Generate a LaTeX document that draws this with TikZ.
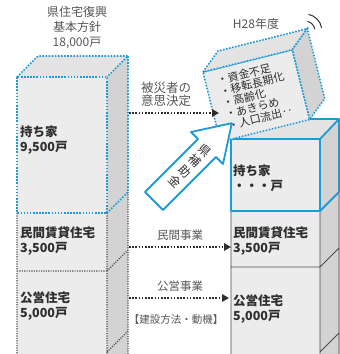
\documentclass[tikz,border=0pt]{standalone}
\usepackage{fontspec}
\setmainfont{Noto Sans CJK JP}
\usetikzlibrary{arrows.meta}
\definecolor{cy}{HTML}{1E9AD6}
\definecolor{ink}{HTML}{2E2E2E}
\definecolor{softink}{HTML}{555555}
\definecolor{frontc}{HTML}{ECECEC}
\definecolor{topc}{HTML}{E3E3E3}
\definecolor{sidec}{HTML}{D3D3D3}
\definecolor{dk}{HTML}{4A4A4A}
\tikzset{
  cdot/.style={draw=cy, line width=1.6pt, dash pattern=on 1.6pt off 1.5pt},
  gdot/.style={draw=dk, line width=1.1pt, dash pattern=on 1.1pt off 1.3pt},
  csol/.style={draw=cy, line width=1.8pt, line join=round},
  dsol/.style={draw=dk, line width=0.9pt},
  lbl/.style={font=\bfseries\fontsize{12.5}{15}\selectfont, text=ink, align=left, anchor=west, inner sep=0pt},
  captxt/.style={font=\fontsize{12}{15}\selectfont, text=softink, align=center, inner sep=0pt},
  smalltxt/.style={font=\fontsize{11.5}{13}\selectfont, text=softink, inner sep=0pt},
  listtxt/.style={font=\fontsize{11}{12}\selectfont, text=ink, anchor=west, inner sep=0pt, rotate=14},
  flow/.style={draw=ink, line width=1.7pt, dash pattern=on 1.6pt off 1.6pt, -{Triangle[length=7pt,width=7.5pt]}, shorten >=0pt},
}
\begin{document}
\begin{tikzpicture}[x=1pt,y=-1pt]
\useasboundingbox (0,0) rectangle (340,354);
\begin{scope}
\clip (0,0) rectangle (340,354);
% ---------- left box ----------
\fill[topc] (17,77)--(38,56)--(128,56)--(107,77)--cycle;
\fill[sidec] (107,77)--(128,56)--(128,380)--(107,400)--cycle;
\fill[frontc] (17,77) rectangle (107,380);
\draw[gdot] (17,213)--(17,380) (107,213)--(107,380) (17,271)--(107,271)
  (128,192)--(128,380) (107,271)--(128,250) (107,352)--(128,331);
\draw[cdot] (17,77) rectangle (107,213);
\draw[cdot] (17,77)--(38,56)--(128,56)--(107,77);
\draw[cdot] (128,56)--(128,192)--(107,213);
% ---------- right box ----------
\fill[topc] (231,139)--(251,119)--(340,119)--(320,139)--cycle;
\fill[sidec] (320,139)--(340,119)--(340,380)--(320,400)--cycle;
\fill[frontc] (231,139) rectangle (320,380);
\draw[dsol] (231,211)--(231,380) (320,211)--(320,380) (231,267)--(320,267)
  (320,267)--(339,248) (320,352)--(339,333) (339,192)--(339,380);
\draw[csol] (231,139) rectangle (320,211);
\draw[csol] (231,139)--(251,119)--(339,119)--(320,139);
\draw[csol] (339,119)--(339,192)--(320,211);
% ---------- tilted box ----------
\filldraw[fill=frontc, cdot] (203,72)--(292.3,49.7)--(309.7,119.5)--(220.4,141.8)--cycle;
\filldraw[fill=topc, cdot] (203,72)--(218,51)--(307.3,28.7)--(292.3,49.7)--cycle;
\filldraw[fill=sidec, cdot] (292.3,49.7)--(307.3,28.7)--(324.7,98.5)--(309.7,119.5)--cycle;
\node[listtxt] (i1) at (217,81) {・資金不足};
\node[listtxt] (i2) at (219.8,92.3) {・移転長期化};
\node[listtxt] (i3) at (222.6,103.6) {・高齢化};
\node[listtxt] (i4) at (225.4,114.9) {・あきらめ};
\node[listtxt] (i5) at (228.2,126.2) {・人口流出‥};
% signal arcs
\draw[draw=ink, line width=1pt] (314.85,29.3) arc[start angle=10, end angle=75, radius=10pt];
\draw[draw=ink, line width=1pt] (321.7,28.0) arc[start angle=10, end angle=78, radius=17pt];
% ---------- big arrow ----------
\filldraw[fill=white, csol] (145,192)--(198,139)--(191,132)--(231.8,123.2)--(223,164)--(216,157)--(163,210)--cycle;
\node[font=\fontsize{12}{14.5}\selectfont, text=ink, align=center, inner sep=0pt, rotate=-45] (aid) at (190,166) {県\\補\\助\\金};
% ---------- texts ----------
\node[captxt] (title) at (77,28) {県住宅復興\\基本方針\\18,000戸};
\node[captxt] (h28) at (256,24) {H28年度};
\node[captxt, font=\fontsize{12.5}{13.5}\selectfont] (decide) at (166,94.5) {被災者の\\意思決定};
\node[smalltxt] (priv) at (180,235) {民間事業};
\node[smalltxt] (pub) at (180,286) {公営事業};
\node[smalltxt, font=\fontsize{10.5}{12}\selectfont] (method) at (176,320) {【建設方法・動機】};
\node[lbl] (l1) at (20,140.5) {持ち家\\9,500戸};
\node[lbl] (l2) at (20,241.5) {民間賃貸住宅\\3,500戸};
\node[lbl] (l3) at (20,306.5) {公営住宅\\5,000戸};
\node[lbl] (r1) at (233,178.5) {持ち家\\・・・戸};
\node[lbl] (r2) at (233,241.5) {民間賃貸住宅\\3,500戸};
\node[lbl] (r3) at (233,309.5) {公営住宅\\5,000戸};
% ---------- flows ----------
\coordinate (a1s) at (129,113); \coordinate (a1e) at (219,113);
\coordinate (a2s) at (129,247); \coordinate (a2e) at (231,247);
\coordinate (a3s) at (129,298); \coordinate (a3e) at (229,298);
\draw[flow] (a1s) -- (a1e);
\draw[flow] (a2s) -- (a2e);
\draw[flow] (a3s) -- (a3e);
\end{scope}
\end{tikzpicture}
\end{document}
